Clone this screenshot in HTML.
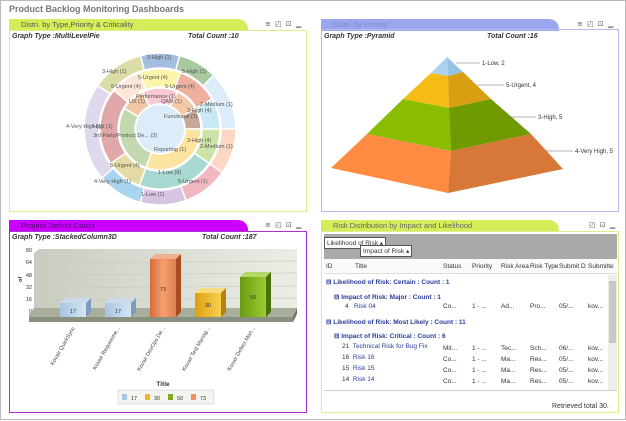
<!DOCTYPE html>
<html><head><meta charset="utf-8"><style>
*{margin:0;padding:0;box-sizing:border-box}
body{width:626px;height:420px;background:#fff;font-family:"Liberation Sans",sans-serif;position:relative;overflow:hidden;border:1px solid #bbb}
.abs{position:absolute}
.tab{position:absolute;height:12px;border-radius:0 10px 0 0;font-size:7.5px;padding:1px 0 0 12px;color:#555}
.box{position:absolute;border:1.5px solid}
.ico{position:absolute;font-size:7px;color:#555;letter-spacing:1px;white-space:nowrap;font-family:"DejaVu Sans",sans-serif}
.it{position:absolute;font-size:7px;font-style:italic;font-weight:bold;color:#333}
.gr{position:absolute;font-size:6.5px;color:#333;white-space:nowrap}
.lk{color:#2a3a9a}
.gh{color:#2a3a9a;font-weight:bold}
</style></head><body>
<div class="abs" style="left:8px;top:3px;font-size:9px;font-weight:bold;color:#777">Product Backlog Monitoring Dashboards</div>

<!-- panel 1 -->
<div class="tab" style="left:8px;top:18px;width:239px;background:#d4ee5a">Distri. by Type,Priority &amp; Criticality</div>
<div class="ico" style="left:264px;top:19px">≡ ◰ ⊡ ▁</div>
<div class="box" style="left:8px;top:29px;width:298px;height:182px;border-color:#dcef8c"></div>
<div class="it" style="left:11px;top:32px">Graph Type :MultiLevelPie</div>
<div class="it" style="left:187px;top:32px">Total Count :10</div>
<svg class="abs" style="left:0;top:0" width="626" height="420" id="pie"></svg>

<!-- panel 2 -->
<div class="tab" style="left:320px;top:18px;width:238px;background:#9aa6ee;color:#7f8bd6">Distri. by Priority</div>
<div class="ico" style="left:576px;top:19px">≡ ◰ ⊡ ▁</div>
<div class="box" style="left:320px;top:28px;width:298px;height:183px;border-color:#b4bde8"></div>
<div class="it" style="left:323px;top:32px">Graph Type :Pyramid</div>
<div class="it" style="left:486px;top:32px">Total Count :16</div>
<svg class="abs" style="left:0;top:0" width="626" height="420" font-family="Liberation Sans" font-size="6" fill="#333">
<polygon points="446,56 430,72 447,75" fill="#acd2f2"/><polygon points="446,56 447,75 462,71" fill="#96c2e6"/>
<polygon points="430,72 402,98 448,107 447,75" fill="#f6bc16"/><polygon points="447,75 448,107 490,98 462,71" fill="#d8a010"/>
<polygon points="402,98 366,133 450,150 448,107" fill="#8abd02"/><polygon points="448,107 450,150 530,133 490,98" fill="#6f9a00"/>
<polygon points="366,133 330,167 447,192 450,150" fill="#ff8c42"/><polygon points="450,150 447,192 562,168 530,133" fill="#d77838"/>
<g stroke="#666" stroke-width="0.6"><line x1="455" y1="62" x2="479" y2="62"/><line x1="476" y1="84" x2="503" y2="84"/><line x1="507" y1="116" x2="535" y2="116"/><line x1="545" y1="150" x2="572" y2="150"/></g>
<text x="481" y="64">1-Low, 2</text><text x="505" y="86">5-Urgent, 4</text><text x="537" y="118">3-High, 5</text><text x="574" y="152">4-Very High, 5</text>
</svg>

<!-- panel 3 -->
<div class="tab" style="left:8px;top:219px;width:239px;background:#cc00ff;color:#6a0090;font-weight:bold">Project Defect Count</div>
<div class="ico" style="left:264px;top:220px">≡ ◰ ⊡ ▁</div>
<div class="box" style="left:8px;top:230px;width:298px;height:182px;border-color:#b030d8"></div>
<div class="it" style="left:11px;top:233px">Graph Type :StackedColumn3D</div>
<div class="it" style="left:201px;top:233px">Total Count :187</div>
<svg class="abs" style="left:0;top:0" width="626" height="420" font-family="Liberation Sans" font-size="5.5" fill="#333">
<defs><linearGradient id="bg" x1="0" x2="1"><stop offset="0" stop-color="#c8ccc0"/><stop offset="1" stop-color="#eceee6"/></linearGradient>
<linearGradient id="bb" x1="0" x2="1"><stop offset="0" stop-color="#a8c4e0"/><stop offset="1" stop-color="#d4e4f4"/></linearGradient>
<linearGradient id="bo" x1="0" x2="1"><stop offset="0" stop-color="#d86a3a"/><stop offset=".5" stop-color="#f4a070"/><stop offset="1" stop-color="#e08050"/></linearGradient>
<linearGradient id="by" x1="0" x2="1"><stop offset="0" stop-color="#e0a010"/><stop offset="1" stop-color="#f6d050"/></linearGradient>
<linearGradient id="bgr" x1="0" x2="1"><stop offset="0" stop-color="#6a9a10"/><stop offset="1" stop-color="#9ccc30"/></linearGradient></defs>
<polygon points="33,252 38,248 296,248 296,310 33,312" fill="url(#bg)"/>
<g stroke="#c8ccc0" stroke-width="0.7"><line x1="33" y1="262" x2="296" y2="260"/><line x1="33" y1="274" x2="296" y2="272"/><line x1="33" y1="287" x2="296" y2="285"/><line x1="33" y1="299" x2="296" y2="297"/></g>
<g text-anchor="end"><text x="31" y="251">80</text><text x="31" y="263">64</text><text x="31" y="276">48</text><text x="31" y="288">32</text><text x="31" y="300">16</text><text x="31" y="312">0</text></g>
<text x="0" y="0" transform="translate(21,281) rotate(-90)" font-weight="bold">of</text>
<polygon points="28,313 33,307 296,307 292,316 28,316" fill="#a8ae9a"/><rect x="28" y="316" width="264" height="5" fill="#8a9080"/>
<polygon points="292,316 296,307 296,313 292,321" fill="#6a7060"/>
<g><rect x="59" y="302" width="26" height="14" fill="url(#bb)"/><polygon points="59,302 64,297 90,297 85,302" fill="#c8daec"/><polygon points="85,302 90,297 90,311 85,316" fill="#7c9cbc"/></g>
<g><rect x="104" y="302" width="26" height="14" fill="url(#bb)"/><polygon points="104,302 109,297 135,297 130,302" fill="#c8daec"/><polygon points="130,302 135,297 135,311 130,316" fill="#7c9cbc"/></g>
<g><rect x="149" y="258" width="26" height="58" fill="url(#bo)"/><polygon points="149,258 154,253 180,253 175,258" fill="#f0b090"/><polygon points="175,258 180,253 180,311 175,316" fill="#a84c20"/></g>
<g><rect x="194" y="292" width="26" height="24" fill="url(#by)"/><polygon points="194,292 199,287 225,287 220,292" fill="#f8dc80"/><polygon points="220,292 225,287 225,311 220,316" fill="#b88008"/></g>
<g><rect x="239" y="276" width="26" height="40" fill="url(#bgr)"/><polygon points="239,276 244,271 270,271 265,276" fill="#b4d868"/><polygon points="265,276 270,271 270,311 265,316" fill="#4c7008"/></g>
<text x="72" y="312" text-anchor="middle">17</text><text x="117" y="312" text-anchor="middle">17</text><text x="162" y="290" text-anchor="middle">73</text><text x="207" y="306" text-anchor="middle">30</text><text x="252" y="298" text-anchor="middle">50</text>
<g fill="#444" text-anchor="end">
<text transform="translate(74,327) rotate(-60)">Kovair QuickSync</text>
<text transform="translate(119,327) rotate(-60)">Kovair Requireme...</text>
<text transform="translate(164,327) rotate(-60)">Kovair DevOps De...</text>
<text transform="translate(209,327) rotate(-60)">Kovair Test Manag...</text>
<text transform="translate(254,327) rotate(-60)">Kovair Defect Man...</text></g>
<text x="162" y="385" text-anchor="middle" font-weight="bold" font-size="6.5">Title</text>
<rect x="117" y="389" width="96" height="14" fill="#f4f4f0" stroke="#ccc" stroke-width="0.6"/>
<rect x="121" y="393" width="5" height="6" fill="#a8c8e8"/><text x="130" y="399">17</text>
<rect x="144" y="393" width="5" height="6" fill="#f0b820"/><text x="153" y="399">30</text>
<rect x="167" y="393" width="5" height="6" fill="#7caa20"/><text x="176" y="399">50</text>
<rect x="190" y="393" width="5" height="6" fill="#f09060"/><text x="199" y="399">73</text>
</svg>

<!-- panel 4 -->
<div class="tab" style="left:320px;top:219px;width:238px;background:#d4ee5a;color:#666">Risk Distribution by Impact and Likelihood</div>
<div class="ico" style="left:588px;top:220px">◰ ⊡ ▁</div>
<div class="box" style="left:320px;top:230px;width:298px;height:182px;border-color:#dcef8c"></div>
<div class="abs" style="left:323px;top:233px;width:293px;height:25px;background:#a9a9a9"></div>
<div class="gr" style="left:323px;top:236px;background:#fff;border:1px solid #555;padding:1px 2px">Likelihood of Risk ▴</div>
<div class="gr" style="left:359px;top:244px;background:#fff;border:1px solid #555;padding:1px 2px">Impact of Risk ▴</div>
<div class="abs" style="left:323px;top:258px;width:293px;height:15px;border-bottom:1px solid #ddd;background:#fafafa"></div>
<div class="gr" style="left:325px;top:262px">ID</div><div class="gr" style="left:354px;top:262px">Title</div>
<div class="gr" style="left:442px;top:262px">Status</div><div class="gr" style="left:471px;top:262px">Priority</div>
<div class="gr" style="left:500px;top:262px;width:28px;overflow:hidden">Risk Area</div><div class="gr" style="left:529px;top:262px;width:28px;overflow:hidden">Risk Type</div>
<div class="gr" style="left:558px;top:262px">Submit D</div><div class="gr" style="left:587px;top:262px;width:29px;overflow:hidden">Submitte</div>
<div class="abs" style="left:607px;top:274px;width:9px;height:115px;background:#eee"></div>
<div class="abs" style="left:608px;top:280px;width:7px;height:62px;background:#c8c8c8"></div>
<div class="gr gh" style="left:325px;top:277px">⊟ Likelihood of Risk: Certain : Count : 1</div>
<div class="gr gh" style="left:333px;top:292px">⊟ Impact of Risk: Major : Count : 1</div>
<div class="gr" style="left:344px;top:302px">4&nbsp;&nbsp; <span class="lk">Risk 04</span></div>
<div class="gr" style="left:442px;top:302px">Co...</div><div class="gr" style="left:471px;top:302px">1 - ...</div><div class="gr" style="left:500px;top:302px">Ad...</div><div class="gr" style="left:529px;top:302px">Pro...</div><div class="gr" style="left:558px;top:302px">05/...</div><div class="gr" style="left:587px;top:302px">kov...</div>
<div class="gr gh" style="left:325px;top:317px">⊟ Likelihood of Risk: Most Likely : Count : 11</div>
<div class="gr gh" style="left:333px;top:331px">⊟ Impact of Risk: Critical : Count : 6</div>
<div class="gr" style="left:341px;top:342px">21&nbsp; <span class="lk">Technical Risk for Bug Fix</span></div>
<div class="gr" style="left:341px;top:353px">16&nbsp; <span class="lk">Risk 16</span></div>
<div class="gr" style="left:341px;top:364px">15&nbsp; <span class="lk">Risk 15</span></div>
<div class="gr" style="left:341px;top:375px">14&nbsp; <span class="lk">Risk 14</span></div>
<div class="gr" style="left:442px;top:342px;line-height:11px">Mit...<br>Co...<br>Co...<br>Co...</div>
<div class="gr" style="left:471px;top:342px;line-height:11px">1 - ...<br>1 - ...<br>1 - ...<br>1 - ...</div>
<div class="gr" style="left:500px;top:342px;line-height:11px">Tec...<br>Ma...<br>Ma...<br>Ma...</div>
<div class="gr" style="left:529px;top:342px;line-height:11px">Sch...<br>Res...<br>Res...<br>Res...</div>
<div class="gr" style="left:558px;top:342px;line-height:11px">06/...<br>05/...<br>05/...<br>05/...</div>
<div class="gr" style="left:587px;top:342px;line-height:11px">kov...<br>kov...<br>kov...<br>kov...</div>
<div class="abs" style="left:323px;top:389px;width:293px;height:1px;background:#ccc"></div>
<div class="gr" style="left:551px;top:402px;font-size:7px">Retrieved total 30.</div>

<script>
var s=document.getElementById('pie'),cx=159,cy=128,h='';
function P(a,r){a=(a-90)*Math.PI/180;return [cx+r*Math.cos(a),cy+r*Math.sin(a)];}
function arc(a0,a1,r0,r1,c){var p=P(a0,r1),q=P(a1,r1),u=P(a1,r0),v=P(a0,r0),l=(a1-a0)>180?1:0;
h+='<path d="M'+p+'A'+r1+','+r1+' 0 '+l+' 1 '+q+'L'+u+'A'+r0+','+r0+' 0 '+l+' 0 '+v+'Z" fill="'+c+'" stroke="#fff" stroke-width="1.5"/>';}
[[-15,15,'#a4bee0'],[15,45,'#a8c8a0'],[45,90,'#dcecf8'],[90,125,'#fcd8c4'],[125,160,'#f2b8c0'],[160,195,'#d8c4e2'],[195,230,'#a8d4ee'],[230,305,'#e0d8ec'],[305,345,'#dcdca8']].forEach(function(d){arc(d[0],d[1],61,76,d[2]);});
[[-20,20,'#fcf4a8'],[20,60,'#f0b0a0'],[60,90,'#c8e8f4'],[90,125,'#cce4a8'],[125,200,'#a8d8d0'],[200,235,'#e4dca4'],[235,310,'#e0a8a8'],[310,340,'#fde6d8']].forEach(function(d){arc(d[0],d[1],42,60,d[2]);});
[[-25,25,'#f8c8d4'],[25,60,'#f4c8a8'],[60,90,'#c8a898'],[90,200,'#fce4a0'],[200,300,'#c4d8b0'],[300,335,'#f0c8a8']].forEach(function(d){arc(d[0],d[1],25,41,d[2]);});
h+='<circle cx="'+cx+'" cy="'+cy+'" r="24" fill="#dcecf8"/>';
var L=[[146,58,'3-High (1)'],[101,72,'3-High (1)'],[181,72,'5-High (1)'],[137,78,'5-Urgent (4)'],[110,87,'5-Urgent (4)'],[164,87,'5-Urgent (4)'],[135,97,'Performance (1)'],[128,102,'UX (1)'],[160,102,'QAM (1)'],[199,105,'2-Medium (1)'],[186,111,'3-High (4)'],[163,117,'Functional (1)'],[65,127,'4-Very High (1)'],[92,136,'3rd Party/Product De... (3)'],[186,141,'3-High (4)'],[199,147,'2-Medium (1)'],[153,150,'Reporting (1)'],[109,166,'5-Urgent (4)'],[157,173,'1-Low (8)'],[177,182,'5-Urgent (1)'],[93,182,'4-Very High (1)'],[140,195,'1-Low (1)'],[92,127,'High (1)']];
L.forEach(function(t){h+='<text x="'+t[0]+'" y="'+t[1]+'" font-size="5.5" fill="#555" font-family="Liberation Sans">'+t[2]+'</text>';});
s.innerHTML=h;
</script>
</body></html>
